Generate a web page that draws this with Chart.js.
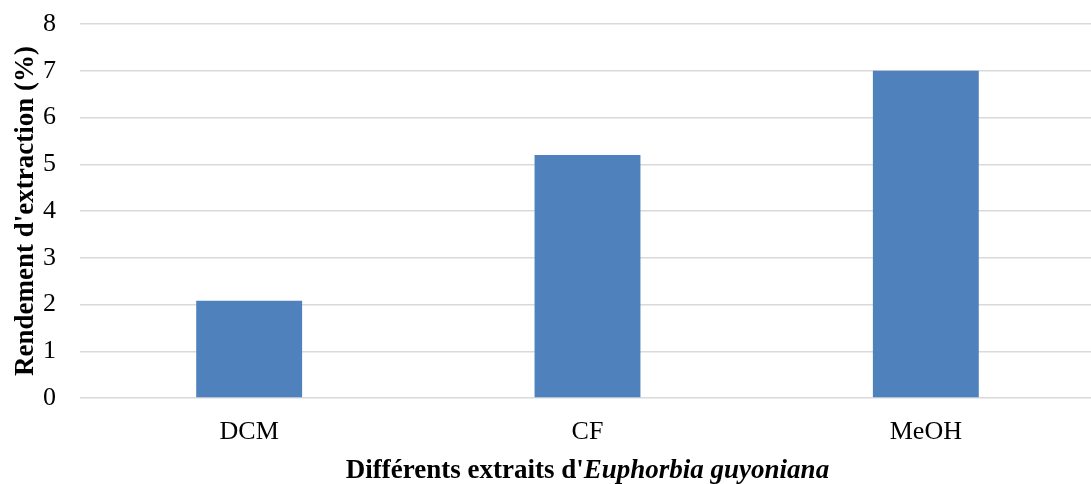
<!DOCTYPE html>
<html lang="fr">
<head>
<meta charset="utf-8">
<title>Rendement d'extraction</title>
<script src="https://cdn.jsdelivr.net/npm/chart.js@4.4.0/dist/chart.umd.min.js"></script>
<style>
  html, body { margin: 0; padding: 0; background: #fff; overflow: hidden; }
  #wrap { width: 1095px; height: 484px; }
</style>
</head>
<body>
<div id="wrap"><canvas id="graficaRendement" width="1095" height="484"></canvas></div>
<script>
const extraits = ["DCM", "CF", "MeOH"];
const rendements = [2.08, 5.2, 7.0];
const yTicks = [0, 1, 2, 3, 4, 5, 6, 7, 8];

const SERIF = "'Liberation Serif', 'Times New Roman', serif";

// axis titles drawn by hand: the x title mixes bold and bold italic
function titlesPlugin() {
  return {
    id: "titres",
    afterDraw(c) {
      const ctx = c.ctx;
      const area = c.chartArea;
      ctx.save();
      ctx.fillStyle = "#000";
      ctx.textBaseline = "alphabetic";

      const partA = "Différents extraits d'";
      const partB = "Euphorbia guyoniana";
      const fA = `bold 27px ${SERIF}`;
      const fB = `italic bold 27px ${SERIF}`;
      ctx.font = fA; const wA = ctx.measureText(partA).width;
      ctx.font = fB; const wB = ctx.measureText(partB).width;
      const cx = (area.left + area.right) / 2;
      let x = cx - (wA + wB) / 2;
      const y = 478;
      ctx.textAlign = "left";
      ctx.font = fA; ctx.fillText(partA, x, y);
      ctx.font = fB; ctx.fillText(partB, x + wA, y);

      ctx.translate(33, (area.top + area.bottom) / 2);
      ctx.rotate(-Math.PI / 2);
      ctx.textAlign = "center";
      ctx.font = fA;
      ctx.fillText("Rendement d'extraction (%)", 0, 0);
      ctx.restore();
    }
  };
}

new Chart(document.getElementById("graficaRendement"), {
  type: "bar",
  data: {
    labels: extraits,
    datasets: [{
      data: rendements,
      backgroundColor: "#4F81BD",
      borderWidth: 0,
      categoryPercentage: 1,
      barPercentage: 0.313
    }]
  },
  options: {
    responsive: false,
    animation: false,
    layout: { padding: { top: 24, right: 0, bottom: 0, left: 0 } },
    plugins: { legend: { display: false }, tooltip: { enabled: false } },
    scales: {
      x: {
        grid: { display: false },
        border: { display: false },
        ticks: { color: "#000", font: { family: SERIF, size: 26 }, padding: 11 },
        afterFit(s) { s.height = 86; s.paddingLeft = 0; s.paddingRight = 0; }
      },
      y: {
        min: 0,
        max: 8,
        afterBuildTicks(s) { s.ticks = yTicks.map(v => ({ value: v })); },
        grid: { color: "#d9d9d9", lineWidth: 1.5, drawTicks: false },
        border: { display: false },
        ticks: { color: "#000", font: { family: SERIF, size: 26 }, padding: 24 },
        afterFit(s) { s.width = 80; s.paddingTop = 0; s.paddingBottom = 0; }
      }
    }
  },
  plugins: [titlesPlugin()]
});
</script>
</body>
</html>
